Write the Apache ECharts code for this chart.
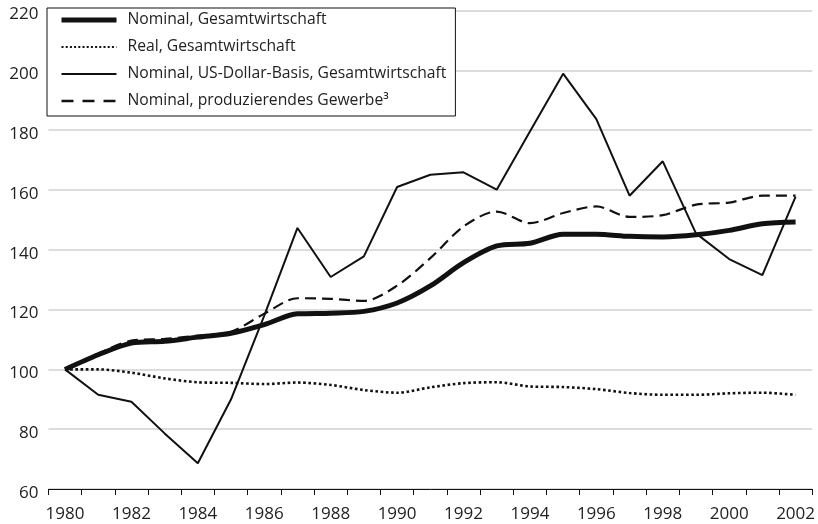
<!DOCTYPE html>
<html>
<head>
<meta charset="utf-8">
<script src="https://cdn.jsdelivr.net/npm/echarts@6/dist/echarts.min.js"></script>
<style>
html,body{margin:0;padding:0;background:#fff;}
#chart{width:818px;height:524px;}
</style>
</head>
<body>
<div id="chart"></div>
<script>
var years = ['1980','1981','1982','1983','1984','1985','1986','1987','1988','1989','1990','1991','1992','1993','1994','1995','1996','1997','1998','1999','2000','2001','2002'];
var yearLabels = {'1980':1,'1982':1,'1984':1,'1986':1,'1988':1,'1990':1,'1992':1,'1994':1,'1996':1,'1998':1,'2000':1,'2002':1};
var yTicks = [60, 80, 100, 120, 140, 160, 180, 200, 220];

var nominalGesamt = [100, 104.9, 108.8, 109.4, 110.8, 112.1, 115.0, 118.6, 118.8, 119.4, 122.2, 127.9, 135.7, 141.3, 142.2, 145.2, 145.2, 144.5, 144.3, 145.0, 146.5, 148.7, 149.3];
var realGesamt = [100, 100, 98.9, 97.0, 95.7, 95.5, 95.1, 95.6, 94.8, 93.1, 92.2, 94.0, 95.4, 95.7, 94.3, 94.1, 93.4, 92.1, 91.5, 91.5, 92.0, 92.2, 91.5];
var nominalUSD = [100, 91.5, 89.2, 78.6, 68.6, 90.0, 118.0, 147.3, 130.9, 137.8, 161.0, 165.1, 165.9, 160.1, 179.6, 198.9, 183.7, 158.1, 169.6, 145.5, 136.9, 131.5, 157.8];
var nominalProd = [100, 105.3, 109.6, 110.2, 111.3, 112.6, 118.6, 123.8, 123.6, 122.9, 128.0, 137.2, 147.8, 152.8, 148.9, 152.3, 154.5, 151.0, 151.6, 155.1, 155.8, 158.1, 158.1];

var names = ['Nominal, Gesamtwirtschaft', 'Real, Gesamtwirtschaft', 'Nominal, US-Dollar-Basis, Gesamtwirtschaft', 'Nominal, produzierendes Gewerbe\u00B3'];

var FONT = 'Open Sans';
var INK = '#111';
var styles = [
  {color: INK, width: 5, type: 'solid'},
  {color: INK, width: 2.6, type: [2.6, 2.6]},
  {color: INK, width: 2, type: 'solid'},
  {color: INK, width: 2.2, type: [11, 6]}
];
var legendStyles = [
  {color: INK, width: 5, type: 'solid'},
  {color: INK, width: 2, type: [2, 2.2]},
  {color: INK, width: 2, type: 'solid'},
  {color: INK, width: 2.4, type: [12, 9]}
];

var chart = echarts.init(document.getElementById('chart'), null, {renderer: 'canvas'});
chart.setOption({
  animation: false,
  backgroundColor: '#fff',
  grid: {left: 48.4, right: 4.3, top: 10.6, bottom: 35, containLabel: false},
  legend: {
    orient: 'vertical',
    left: 47, top: 8,
    padding: [4, 9, 7, 12],
    itemGap: 11,
    itemWidth: 55,
    itemHeight: 16,
    borderColor: INK,
    borderWidth: 1,
    borderRadius: 0,
    backgroundColor: '#fff',
    itemStyle: {opacity: 0},
    textStyle: {fontFamily: FONT, fontSize: 15.7, color: '#222', padding: [0, 0, 0, 6]},
    data: names.map(function(n, i){ return {name: n, lineStyle: legendStyles[i], itemStyle: {opacity: 0}}; })
  },
  xAxis: {
    type: 'category',
    data: years,
    boundaryGap: true,
    axisLine: {lineStyle: {color: INK, width: 1}},
    axisTick: {show: true, length: 6, lineStyle: {color: INK}},
    axisLabel: {
      fontFamily: FONT, fontSize: 17, color: '#222', margin: 17,
      interval: 0,
      formatter: function(v){ return yearLabels[v] ? v : ''; }
    },
    splitLine: {show: false}
  },
  yAxis: {
    type: 'value',
    min: yTicks[0], max: yTicks[yTicks.length-1], interval: 20,
    axisLine: {show: false},
    axisTick: {show: false},
    axisLabel: {
      fontFamily: FONT, fontSize: 17, color: '#222', margin: 10,
      formatter: function(v){ return '{t|' + v + '}'; },
      rich: {t: {fontFamily: FONT, fontSize: 17, color: '#222', padding: [8, 0, 0, 0]}}
    },
    splitLine: {lineStyle: {color: '#dcdcdc', width: 2}}
  },
  series: [
    {name: names[1], type: 'line', data: realGesamt, symbol: 'none', smooth: 0.3, z: 2,
     itemStyle: {color: INK}, lineStyle: styles[1]},
    {name: names[2], type: 'line', data: nominalUSD, symbol: 'none', z: 3,
     itemStyle: {color: INK}, lineStyle: styles[2]},
    {name: names[3], type: 'line', data: nominalProd, symbol: 'none', smooth: 0.3, z: 4,
     itemStyle: {color: INK}, lineStyle: styles[3]},
    {name: names[0], type: 'line', data: nominalGesamt, symbol: 'none', smooth: 0.3, z: 5,
     itemStyle: {color: INK}, lineStyle: styles[0]}
  ]
});
</script>
</body>
</html>
